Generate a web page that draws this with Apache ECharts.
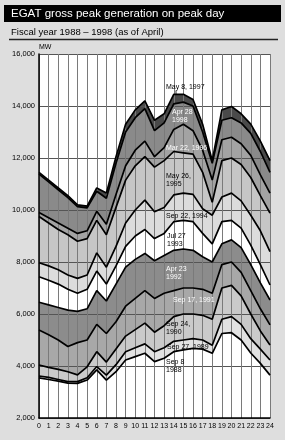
<!DOCTYPE html>
<html><head><meta charset="utf-8">
<script src="https://cdn.jsdelivr.net/npm/echarts/dist/echarts.min.js"></script>
<style>html,body{margin:0;padding:0;background:#fff}#c{width:285px;height:440px}</style>
</head><body><div id="c"></div>
<script>
// hour of day
const hours = [0,1,2,3,4,5,6,7,8,9,10,11,12,13,14,15,16,17,18,19,20,21,22,23,24];
// load (MW) on peak day of each fiscal year
const y1997 = [11450,11150,10850,10550,10200,10150,10850,10650,12050,13300,13850,14200,13450,13700,14450,14450,14250,13300,11900,13850,13980,13700,13300,12650,11900];
const y1998 = [11380,11080,10780,10480,10130,10080,10720,10450,11800,13000,13550,13900,13050,13350,14080,14150,14000,13000,11800,13450,13550,13350,12950,12250,11450];
const y1996 = [9900,9700,9500,9300,9100,9200,9950,9450,10600,11700,12300,12650,12050,12400,13100,13300,13050,12300,11150,12700,12800,12550,12100,11350,10650];
const y1995 = [9750,9500,9250,9050,8800,8900,9600,9050,10100,11150,11700,12050,11650,11900,12250,12200,12150,11450,10300,11900,12000,11750,11250,10550,9880];
const y1994 = [7970,7850,7700,7500,7370,7500,8350,7800,8600,9500,10000,10380,9930,10100,10580,10650,10600,10050,9800,10500,10650,10350,9800,9200,8400];
const y1993 = [7430,7300,7150,6950,6800,6950,7650,7150,7850,8600,9000,9250,8900,9100,9550,9600,9550,9100,8700,9550,9600,9300,8650,7900,7115];
const y1992 = [6450,6350,6250,6150,6100,6200,6900,6500,7150,7800,8100,8330,8050,8250,8450,8500,8450,8200,8000,8700,8850,8550,7900,7200,6540];
const y1991 = [5385,5200,5000,4750,4900,5000,5600,5250,5700,6300,6600,6900,6600,6800,6900,7000,7000,6950,6800,7900,8000,7600,6900,6200,5580];
const y1990 = [4040,3950,3870,3780,3660,3970,4550,4150,4650,5150,5400,5650,5300,5550,5900,6000,6000,5950,5800,7000,7100,6700,6000,5350,4810];
const y1989 = [3615,3560,3480,3400,3400,3550,3980,3650,4050,4550,4700,4850,4550,4700,4950,5000,5050,5000,4800,5800,5900,5600,5050,4650,4230];
const y1988 = [3540,3480,3420,3340,3330,3460,3850,3460,3780,4230,4360,4490,4170,4300,4550,4620,4680,4650,4490,5250,5280,5000,4500,4100,3650];
const yTicks = [2000,4000,6000,8000,10000,12000,14000,16000];
const peakDays = ['May 8, 1997','Apr 28\n1998','Mar 22, 1996','May 26,\n1995','Sep 22, 1994','Jul 27\n1993','Apr 23\n1992','Sep 17, 1991','Sep 24,\n1990','Sep 27, 1989','Sep 8\n1988'];

// drawing order top curve first; fill colour = band below each curve
const curves = [y1997,y1998,y1996,y1995,y1994,y1993,y1992,y1991,y1990,y1989,y1988];
const bandColors = ['#4a4a4a','#8a8a8a','#a3a3a3','#c6c6c6','#dcdcdc','#ffffff','#8c8c8c','#a8a8a8','#cacaca','#e2e2e2','#ffffff'];
// label placement (pixel) and colour
const labelPos = [[166,87,'#000'],[172,116,'#fff'],[166,148,'#fff'],[166,180,'#000'],[166,216,'#000'],[167,240,'#000'],[166,273,'#fff'],[173,300,'#fff'],[166,328,'#000'],[167,347,'#000'],[166,366,'#000']];

const FONT = '"Liberation Sans", Arial, sans-serif';
const pairs = arr => hours.map((h,i)=>[h,arr[i]]);
const series = [];
curves.forEach((c,i)=>{
  series.push({type:'line',data:pairs(c),z:1,silent:true,showSymbol:false,symbol:'none',
    lineStyle:{width:0},areaStyle:{color:bandColors[i],opacity:1,origin:'start'}});
});
curves.forEach((c,i)=>{
  series.push({type:'line',data:pairs(c),z:5,silent:true,showSymbol:false,symbol:'none',
    lineStyle:{width:1.7,color:'#000'}});
});

const fmt = v => String(v).replace(/\B(?=(\d{3})+(?!\d))/g, ',');

const graphics = [
  {type:'rect',shape:{x:4,y:5,width:277,height:17},style:{fill:'#000'},z:10},
  {type:'text',x:11,y:14,style:{text:'EGAT gross peak generation on peak day',fill:'#fff',font:'11.5px '+FONT,verticalAlign:'middle'},z:11},
  {type:'text',x:11,y:32,style:{text:'Fiscal year 1988 \u2013 1998 (as of April)',fill:'#000',font:'9.5px '+FONT,verticalAlign:'middle'},z:11},
  {type:'line',shape:{x1:9,y1:39.5,x2:278,y2:39.5},style:{stroke:'#222',lineWidth:1.5},z:11},
  {type:'text',x:39,y:47,style:{text:'MW',fill:'#000',font:'7px '+FONT,verticalAlign:'middle'},z:11},
  {type:'line',shape:{x1:176,y1:90.5,x2:176,y2:94},style:{stroke:'#000',lineWidth:0.8},z:12}
];
peakDays.forEach((t,i)=>{
  const p = labelPos[i];
  graphics.push({type:'text',x:p[0],y:p[1],style:{text:t,fill:p[2],font:'7px '+FONT,verticalAlign:'middle',lineHeight:8},z:12});
});

const chart = echarts.init(document.getElementById('c'),null,{renderer:'canvas'});
chart.setOption({
  backgroundColor:'#dedede',
  animation:false,
  grid:{left:39,right:15,top:54,bottom:22,show:true,backgroundColor:'#fff',borderWidth:0},
  xAxis:{type:'value',min:0,max:24,interval:1,z:3,
    axisLine:{show:true,lineStyle:{color:'#000',width:1.5}},axisTick:{show:false},
    axisLabel:{fontSize:7,fontFamily:FONT,color:'#000',margin:5},
    splitLine:{show:true,lineStyle:{color:'#7a7a7a',width:1}}},
  yAxis:{type:'value',min:2000,max:16000,interval:2000,z:3,
    axisLine:{show:true,lineStyle:{color:'#000',width:1.5}},axisTick:{show:false},
    axisLabel:{fontSize:7.5,fontFamily:FONT,color:'#000',margin:4,formatter:v=>yTicks.includes(v)?fmt(v):''},
    splitLine:{show:true,lineStyle:{color:'#555',width:1}}},
  series:series,
  graphic:graphics
});
</script></body></html>
